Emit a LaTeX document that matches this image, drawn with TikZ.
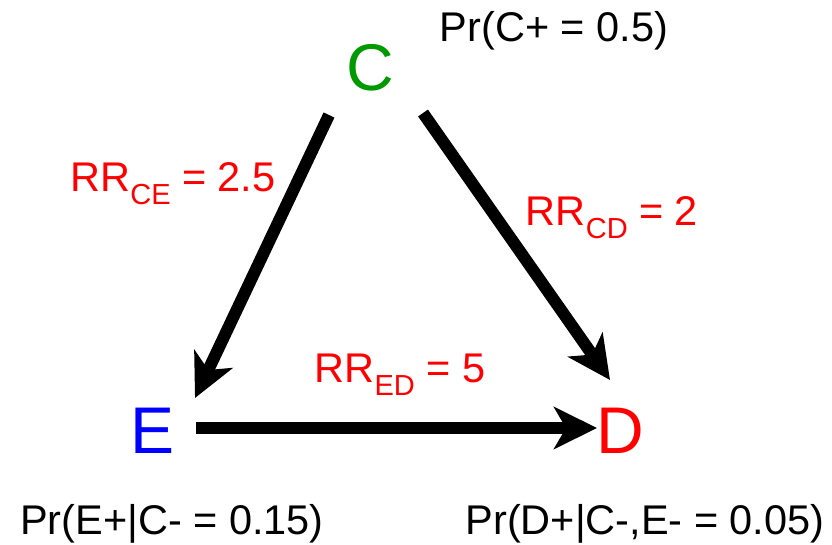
\documentclass[tikz,border=0pt]{standalone}
\usepackage{fontspec}
\setmainfont{Liberation Sans}
\usetikzlibrary{arrows.meta}
\definecolor{cgreen}{RGB}{0,153,0}
\newcommand{\rrsub}[1]{\raisebox{-13pt}{\fontsize{29}{34}\selectfont #1}}
\begin{document}
\begin{tikzpicture}[x=1pt,y=-1pt,
    big/.style={inner sep=0pt,font=\fontsize{66}{72}\selectfont},
    lbl/.style={inner sep=0pt,anchor=base,font=\fontsize{41.5}{48}\selectfont},
    rr/.style={lbl,text=red},
    arr/.style={line width=12pt,-{Stealth[length=43pt,width=42pt,inset=12pt]}}]
    \useasboundingbox (0,0) rectangle (832,544);
    % variables
    \node[big,text=cgreen] (C) at (370,68) {C};
    \node[big,text=blue] (E) at (153,431) {E};
    \node[big,text=red] (D) at (620,431) {D};
    % probabilities
    \node[lbl] (prc) at (554,41) {Pr(C+ = 0.5)};
    \node[lbl] (pre) at (172,534) {Pr(E+|C- = 0.15)};
    \node[lbl] (prd) at (645,534) {Pr(D+|C-,E- = 0.05)};
    % relative risks
    \node[rr] (rrce) at (173,191) {RR\rrsub{CE} = 2.5};
    \node[rr] (rrcd) at (612,225) {RR\rrsub{CD} = 2};
    \node[rr] (rred) at (400,382) {RR\rrsub{ED} = 5};
    % arrows
    \draw[arr] ([shift={(-41,47)}]C.center) -- ([shift={(42,-33)}]E.center);
    \draw[arr] ([shift={(53,45)}]C.center) -- ([shift={(-10,-51)}]D.center);
    \draw[arr] ([shift={(43,-3)}]E.center) -- ([shift={(-23,-3)}]D.center);
\end{tikzpicture}
\end{document}
